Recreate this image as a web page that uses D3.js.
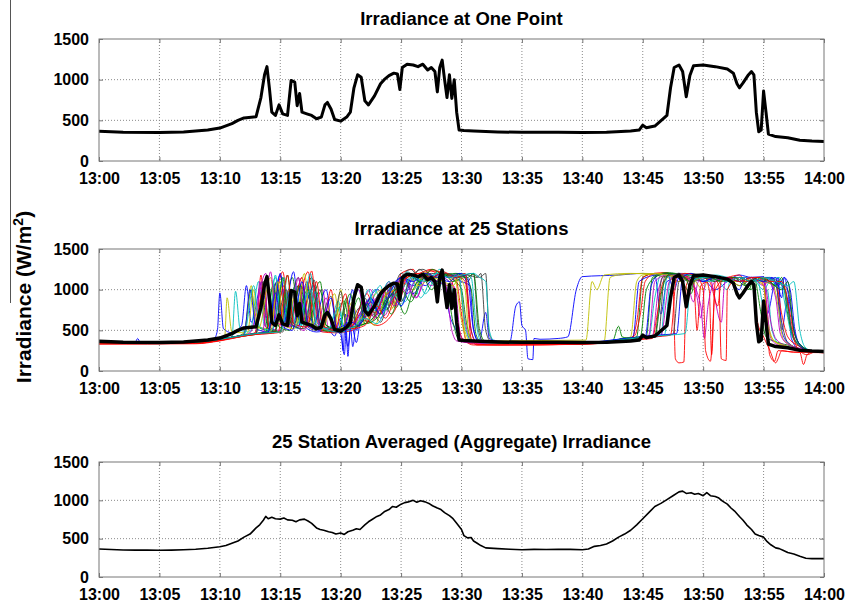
<!DOCTYPE html>
<html>
<head>
<meta charset="utf-8">
<script src="https://cdn.jsdelivr.net/npm/d3@7"></script>
<style>
  body { margin: 0; background: #fff; }
  svg { display: block; font-family: Arial, "Liberation Sans", Helvetica, sans-serif; }
</style>
</head>
<body>
<div id="chart"></div>
<script>
// minutes after 13:00 -> W/m2, flat [t, v, t, v, ...] lists
const onePoint = [0,365, 2,355, 5,350, 7,358, 9,380, 10,405, 11,460, 11.5,500, 12,530, 13,545, 13.4,780, 13.7,1060, 13.9,1160, 14.1,900, 14.3,600, 14.6,560, 14.9,690, 15.2,580, 15.6,560, 15.9,990, 16.2,970, 16.4,680, 16.6,830, 16.8,600, 17.2,580, 17.6,560, 18,520, 18.4,540, 18.7,690, 18.9,720, 19.2,640, 19.5,510, 20,490, 20.5,540, 20.8,600, 21.1,900, 21.4,1060, 21.7,1030, 22,740, 22.3,690, 22.8,800, 23.3,950, 23.6,1000, 24,1050, 24.4,1080, 24.7,1070, 24.9,880, 25.1,1150, 25.5,1190, 26,1180, 26.4,1160, 26.8,1190, 27.2,1120, 27.5,1150, 27.8,1100, 28,850, 28.2,1150, 28.4,1240, 28.6,1000, 28.8,780, 29,1060, 29.2,770, 29.4,1000, 29.6,600, 29.8,380, 30.2,375, 31,370, 33,358, 35,352, 38,352, 40,350, 42,352, 44,370, 44.7,380, 45,440, 45.3,410, 46,430, 46.7,520, 47,560, 47.3,900, 47.6,1150, 48,1180, 48.3,1100, 48.6,790, 48.9,1050, 49.2,1170, 50,1180, 51,1160, 52,1130, 52.5,1080, 52.8,950, 53,900, 53.3,960, 53.7,1050, 54,1100, 54.2,1060, 54.4,600, 54.6,360, 54.8,380, 55,860, 55.2,600, 55.4,330, 56,300, 57,285, 58,255, 59,245, 60,240];

const aggregate = [0,365, 0.5,362, 1,358, 2,352, 3,350, 4,350, 5,348, 6,350, 7,355, 8,362, 9,375, 10,395, 10.5,410, 11,440, 11.5,470, 12,520, 12.5,560, 13,640, 13.3,680, 13.6,740, 13.8,790, 14,760, 14.3,780, 14.6,760, 15,755, 15.3,770, 15.6,745, 16,740, 16.3,720, 16.6,745, 17,755, 17.3,730, 17.6,700, 18,640, 18.3,620, 18.6,610, 19,590, 19.3,580, 19.6,560, 20,575, 20.3,555, 20.6,590, 21,610, 21.3,630, 21.6,620, 22,680, 22.3,720, 22.6,750, 23,790, 23.3,810, 23.6,850, 24,880, 24.3,920, 24.6,910, 25,950, 25.3,970, 25.6,980, 26,1000, 26.3,975, 26.6,995, 27,980, 27.3,960, 27.6,930, 28,900, 28.3,880, 28.6,840, 29,800, 29.3,760, 29.6,700, 30,620, 30.2,540, 30.5,510, 30.8,515, 31,470, 31.3,440, 31.6,410, 32,380, 33,370, 34,362, 35,355, 36,360, 37,358, 38,362, 39,360, 40,355, 40.5,365, 41,400, 41.5,410, 42,430, 42.5,470, 43,520, 43.5,560, 44,610, 44.5,680, 45,760, 45.5,840, 46,920, 46.5,960, 47,1010, 47.5,1060, 48,1110, 48.3,1120, 48.6,1090, 49,1100, 49.3,1080, 49.6,1090, 50,1060, 50.3,1100, 50.6,1060, 51,1050, 51.3,1030, 51.6,990, 52,950, 52.3,900, 52.6,860, 53,790, 53.3,740, 53.6,680, 54,620, 54.3,560, 54.6,540, 55,520, 55.3,460, 55.6,420, 56,380, 56.3,370, 56.6,350, 57,320, 57.5,300, 58,270, 58.5,245, 59,240, 60,240];

const stationColors = ['#0000ff', '#008000', '#ff0000', '#00bfbf', '#bf00bf', '#bfbf00', '#404040'];

const stations = [
  [0,355, 3,355, 3.2,400, 3.4,355, 8,360, 9.5,390, 9.8,500, 10,960, 10.3,520, 11,470, 11.8,560, 12.2,1050, 12.6,600, 13.5,1100, 14,560, 15,1180, 15.6,620, 16.5,1050, 17,550, 18,480, 19,500, 19.5,430, 20,650, 20.2,250, 20.4,700, 20.6,180, 20.8,560, 21,300, 21.3,620, 22,780, 23,1000, 24,900, 25,1150, 26,1050, 27,1180, 28,1100, 28.5,1150, 29,700, 29.5,520, 30,380, 31,370, 31.5,380, 32,720, 32.3,400, 33,370, 34,360, 34.5,800, 34.8,850, 35,560, 35.3,500, 35.5,150, 35.9,140, 36,400, 36.5,390, 38,400, 38.8,420, 39.5,1000, 40,1160, 43,1180, 45,1200, 46,1180, 46.5,700, 47,1100, 48,1150, 49,1100, 50,1120, 51,1000, 52,1100, 53,1180, 54,1150, 55,1160, 55.3,700, 56,1100, 56.5,500, 57,900, 57.3,400, 58,260, 60,230],
  [0,350, 8,360, 10,395, 11.5,430, 12,470, 12.6,1000, 13,560, 14,500, 14.6,1080, 15.1,560, 16,1150, 16.6,600, 17.5,950, 18,540, 19,500, 20.3,860, 20.8,520, 21.5,560, 22.5,900, 23.2,700, 24,1000, 24.6,780, 25.4,1150, 26,900, 27,1180, 28,1150, 28.8,1000, 29.3,600, 29.8,380, 31,350, 35,340, 40,345, 43,380, 44.5,420, 45,1150, 46,1200, 47,1180, 48,1150, 49,950, 49.4,1150, 51,1160, 52,1100, 53,1150, 53.8,1000, 54.2,1150, 54.8,700, 55.2,420, 56,360, 57.5,300, 58.5,250, 60,235],
  [0,330, 8,335, 10,370, 12,430, 13,460, 13.4,1180, 13.8,540, 15,470, 15.5,900, 16,520, 17.3,1220, 17.9,600, 18.5,480, 19.5,470, 21,500, 22,620, 23,560, 24.5,750, 25,1200, 26,1250, 26.5,1100, 27.3,1240, 28,1200, 29.5,1150, 30,700, 30.4,360, 31,320, 35,320, 40,330, 42,350, 44,380, 44.5,600, 45,1150, 46,1200, 47,1210, 47.5,1100, 47.7,150, 48,100, 48.4,110, 48.6,1050, 49,1150, 50,1180, 50.5,1000, 50.7,200, 51,1100, 52,1150, 53,1180, 53.5,1100, 54,1150, 54.5,600, 55,420, 55.5,260, 56,100, 56.2,150, 56.5,250, 57.5,230, 58,230, 58.3,80, 58.6,200, 59,230, 60,225],
  [0,345, 8,355, 10,390, 11,420, 11.3,980, 11.7,500, 12.5,480, 13.2,1100, 13.7,560, 14.6,1150, 15.2,600, 16.2,1000, 16.7,560, 18,960, 18.5,520, 19.5,480, 20.5,560, 21.5,1000, 22,700, 23.3,1050, 23.8,760, 24.5,1000, 25,800, 25.8,1180, 26.6,900, 27.8,1200, 28.5,1150, 29.2,1050, 29.6,500, 30,370, 32,350, 40,350, 43,380, 45.5,420, 46,900, 46.5,1180, 48,1200, 49,1150, 50,1180, 51,1150, 52,1000, 52.3,1150, 53.5,1100, 54.5,1120, 55,800, 55.3,1000, 55.7,500, 56.3,330, 57.5,280, 60,235],
  [0,350, 8,360, 10,395, 11.5,430, 12.5,470, 13.8,1200, 14.3,560, 15.3,1000, 15.8,540, 16.8,1150, 17.3,600, 18.5,1000, 19,520, 20,480, 21,600, 22.5,1000, 23,750, 24,1100, 24.6,800, 25.5,1100, 26.3,900, 27,1200, 28,1100, 29,1050, 29.7,1180, 30.3,600, 30.8,360, 32,340, 40,345, 44,400, 45.8,430, 46.3,1000, 47,1200, 48,1100, 48.5,1180, 49.2,850, 49.6,1100, 50.5,1150, 51.5,600, 51.8,1100, 53,1150, 54,1100, 55,1150, 55.6,600, 56,400, 57,300, 58.5,245, 60,235],
  [0,355, 8,360, 10,390, 10.4,420, 10.6,900, 11,480, 12,470, 12.6,1050, 13,560, 14,520, 15,1100, 15.5,580, 16.5,1050, 17,560, 18.2,860, 18.7,520, 19.5,500, 20,1000, 20.5,560, 21.5,600, 22.5,880, 23.5,1000, 24.2,760, 25,1100, 26,1000, 27,1220, 28,1150, 29,1180, 29.8,1100, 30.3,480, 30.8,360, 32,350, 33,370, 40.3,380, 40.8,1100, 41.2,1000, 41.8,1180, 44,1200, 46,1180, 47,1150, 48,1100, 49,1150, 50,1000, 50.5,1150, 52,1150, 53,1100, 54,1120, 55,1050, 55.5,500, 56,350, 57,300, 58.5,250, 60,235],
  [0,350, 8,360, 10,390, 12,440, 13,470, 13.6,1100, 14.1,540, 15.2,480, 16,1000, 16.5,560, 17.6,1150, 18.2,580, 19,500, 20,480, 21,560, 22,900, 22.6,680, 23.6,1000, 24,800, 25,1150, 25.8,1250, 26.5,1150, 27.5,1200, 28.3,1180, 29,1150, 30,1200, 30.5,1100, 31,1200, 31.4,500, 31.8,370, 33,350, 40,350, 44,390, 46,440, 46.6,1150, 48,1200, 50,1180, 51,1100, 52,1150, 53,1050, 54,1120, 55,1100, 56,1050, 56.5,600, 57,350, 58.5,250, 60,235],
  [0,350, 8,360, 10,390, 12,440, 12.5,1000, 13,520, 14,480, 14.7,1100, 15.2,560, 16.1,1220, 16.6,620, 17.8,1050, 18.3,560, 19.5,500, 20.3,540, 21,1000, 21.3,500, 21.6,650, 22.5,880, 23.3,700, 24,1000, 25.2,1150, 26,950, 27,1150, 28,1100, 29,1180, 30,1100, 30.7,1050, 31,500, 31.5,360, 33,345, 40,345, 43,390, 44.2,420, 44.7,1100, 46,1180, 47,1200, 47.6,1000, 48,1150, 49,1100, 50,1150, 51,1160, 52,1100, 53,1150, 54,1150, 55.5,1150, 55.8,1000, 56.2,1150, 56.5,500, 57,350, 58.5,250, 60,235],
  [0,340, 8,350, 10,385, 12,430, 13,450, 13.8,480, 14.4,1050, 14.9,540, 15.8,500, 16.5,1050, 17,580, 18.3,1100, 18.8,560, 19.8,500, 20.5,900, 21,540, 22,580, 23,700, 23.8,880, 24.5,950, 25.3,700, 26,1000, 27,1200, 27.8,1050, 28.5,1180, 29.5,1100, 30,1000, 30.4,600, 30.9,370, 32,345, 40,345, 42.5,370, 43,550, 43.3,420, 44,400, 45.3,430, 45.8,1150, 47,1210, 48.5,1180, 50,1150, 51,1100, 52,1150, 53,1150, 54,1000, 54.3,1150, 55,1120, 56,1050, 56.5,1100, 57,800, 57.4,420, 58,300, 59,245, 60,235],
  [0,340, 8,345, 10,380, 12,440, 12.9,470, 13.6,1050, 14.1,530, 15.2,1220, 15.8,600, 16.8,520, 17.6,1230, 18.1,580, 19,480, 20,500, 21,580, 22.2,950, 22.8,720, 24,1050, 24.8,850, 25.6,1200, 26.5,1150, 27.5,1230, 28.5,1200, 29.2,1100, 29.7,600, 30.2,360, 31.5,330, 40,335, 43,370, 44.3,430, 44.8,700, 45.2,1100, 46,1200, 47,1200, 48,1180, 49,1150, 50,1100, 50.8,1150, 51.3,1050, 51.5,150, 51.9,130, 52,1000, 53,1150, 54,1100, 55,1120, 56,1100, 56.5,700, 57,420, 58,300, 59,240, 60,230],
  [0,350, 8,360, 10,390, 12,440, 13,460, 14,470, 14.6,1180, 15.1,580, 16.3,1050, 16.8,540, 17.8,980, 18.3,540, 19,500, 19.8,860, 20.3,520, 21,540, 22,650, 22.8,1000, 23.5,800, 24.5,1050, 25.3,850, 26.3,1150, 27,950, 28.2,1250, 29,1180, 30,1200, 30.8,1150, 31.2,600, 31.6,370, 33,345, 40,345, 43,370, 45,400, 46.8,440, 47.3,1150, 48.5,1200, 50,1150, 51,1180, 52,1150, 53,1100, 54,1150, 55,1000, 55.5,1100, 56.3,1150, 56.8,800, 57.3,460, 58,320, 59,245, 60,235],
  [0,345, 8,355, 10,390, 12,440, 13,460, 13.3,1100, 13.8,540, 15,500, 15.7,1000, 16.2,560, 17,500, 17.8,950, 18.3,540, 19.5,490, 20.3,560, 21.5,1000, 22,650, 23,900, 23.6,680, 24.8,1100, 25.5,950, 26.5,1180, 27.5,1050, 28.3,1150, 29,1100, 29.5,1000, 29.9,450, 30.4,360, 32,340, 40,345, 43,380, 45,420, 45.5,440, 46,1100, 47,1180, 48,1150, 49,1100, 49.5,900, 49.8,650, 50.2,1100, 51,1150, 52.5,1100, 53.5,1150, 54.5,1150, 55,1100, 55.6,400, 56.2,320, 57.5,280, 58.5,245, 60,235],
  [0,350, 8,360, 10,390, 12,440, 12.3,470, 12.8,1000, 13.2,520, 14.2,1150, 14.7,560, 15.8,1000, 16.3,540, 17.3,1080, 17.8,560, 19,500, 20,520, 21,850, 21.5,560, 22.5,700, 23.5,1000, 24.3,780, 25,1050, 26,1180, 27,1100, 28,1150, 28.8,1050, 29.4,1150, 30,620, 30.5,370, 32,350, 40,350, 42,370, 43,380, 44,420, 44.5,1100, 45,1180, 46.5,1200, 48,1150, 49,1150, 50,1100, 51,1150, 52,1150, 53,1050, 54,1150, 55,1100, 55.8,1050, 56.3,700, 56.6,400, 57.5,300, 58.5,250, 60,235],
  [0,350, 8,360, 10,390, 12,440, 13,460, 14,480, 14.8,1000, 15.3,560, 16.5,1150, 17,580, 18,500, 19.2,920, 19.7,520, 20.5,520, 21.6,780, 22.2,600, 23.2,950, 23.8,750, 25,1200, 25.8,1100, 26.5,1250, 27.4,1150, 28.5,1200, 29.5,1150, 30.5,1180, 31.3,1150, 31.6,1200, 32,500, 32.4,370, 34,345, 40,345, 43,380, 46,430, 47.5,450, 48,1100, 49,1200, 50,1150, 51,1120, 52,1150, 53,1100, 54,1150, 55,1100, 55.5,1150, 56.2,1100, 57,1000, 57.5,500, 58,330, 59,250, 60,235],
  [0,350, 8,360, 10,390, 12,440, 13,460, 14.3,480, 15,1200, 15.5,600, 16.5,540, 17.2,1100, 17.7,560, 18.8,1000, 19.3,520, 20,450, 20.3,200, 20.5,600, 21,520, 21.3,350, 21.6,600, 22.5,900, 23.3,650, 24.2,950, 25,800, 26,1150, 27,1050, 28,1180, 29,1150, 29.6,1200, 30.3,1150, 30.8,500, 31.2,370, 33,350, 40,350, 43,380, 45.2,410, 45.7,1050, 46.3,1180, 47.5,1200, 48.3,1100, 49,1150, 50,1100, 51,1150, 52,1150, 53,1000, 53.3,1100, 54,1150, 55.7,1150, 56.2,1050, 56.7,1150, 57.2,800, 57.6,450, 58.2,300, 59,245, 60,235],
  [0,345, 8,355, 10,390, 12,440, 13,455, 13.5,900, 14,520, 15,480, 15.6,1180, 16.1,580, 17.3,1000, 17.8,540, 19,490, 19.8,520, 20.8,950, 21.3,560, 22.5,620, 23.5,850, 24.2,700, 25,1000, 25.8,850, 26.8,1150, 27.5,1000, 28.5,1200, 29.3,1100, 30.3,1150, 30.8,1000, 31.2,450, 31.6,360, 33,345, 40,345, 42.8,370, 43.2,400, 44.8,420, 45.3,1000, 46,1150, 47,1200, 48,1180, 49,1100, 50,1150, 51,1150, 52,1100, 53,1150, 54,1100, 55,1150, 56,1050, 56.5,1150, 57,700, 57.5,400, 58,320, 59,245, 60,235],
  [0,335, 8,340, 10,375, 12,430, 13,450, 14,460, 14.5,470, 15.3,1050, 15.8,580, 16.8,1150, 17.3,580, 18.5,500, 19.2,1000, 19.7,520, 20.7,520, 21.7,700, 22.5,600, 23.5,900, 24.5,1000, 25.5,1150, 26.5,1200, 27.5,1250, 28.5,1200, 29.5,1180, 30.3,1100, 30.8,400, 31.3,320, 33,320, 40,330, 42,345, 44,380, 45.8,400, 46.2,700, 46.7,1100, 47.5,1180, 48.5,1150, 49.2,1100, 49.5,500, 49.8,1050, 50.5,1100, 51.2,800, 51.5,1100, 52.5,1150, 53.5,1100, 54.5,1150, 55,1050, 55.3,600, 55.5,200, 55.9,120, 56.2,250, 57,240, 58,230, 60,225],
  [0,350, 8,360, 10,390, 12,440, 12.8,1050, 13.3,540, 14.3,500, 15.3,1150, 15.8,580, 16.6,520, 17.5,1200, 18,600, 19,500, 20,480, 21.3,560, 22.3,1000, 22.8,740, 24,1100, 24.7,900, 25.5,1220, 26.5,1100, 27.3,1150, 28,1000, 28.8,1200, 29.8,1150, 30.3,550, 30.8,370, 32,345, 40,345, 43,385, 45,420, 46.5,440, 47,1150, 48,1200, 49.5,1150, 50.5,1100, 51.5,1150, 52.5,1100, 53.5,1150, 54.5,1100, 55.5,1150, 56,1050, 56.7,1000, 57.1,700, 57.4,450, 58,320, 59,245, 60,235],
  [0,350, 8,360, 10,390, 12,440, 13,460, 13.5,470, 14.2,1220, 14.7,600, 15.8,540, 16.5,1150, 17,580, 18,520, 18.8,900, 19.3,520, 20.3,500, 21.2,580, 22.2,850, 22.8,650, 23.8,1000, 24.4,800, 25.3,1100, 26.2,900, 27.2,1150, 28,1050, 28.6,1100, 29.2,500, 29.6,370, 31,345, 40,345, 43,380, 45.5,420, 46.5,430, 47.2,1100, 48,1200, 49,1100, 49.8,800, 50.1,400, 50.4,800, 51,1100, 52,1150, 53,1100, 54,1150, 55,1050, 55.4,1100, 56,900, 56.4,450, 57,330, 58,280, 59,245, 60,235],
  [0,350, 8,360, 10,390, 12,440, 13,460, 14.2,480, 14.8,1100, 15.3,560, 16.2,520, 17,1200, 17.5,600, 18.5,520, 19.5,950, 20,540, 21,520, 22,700, 22.8,560, 23.8,950, 24.5,1000, 25.5,1180, 26.5,1050, 27.5,1150, 28.5,1100, 29.3,1050, 29.8,1150, 30.3,1000, 30.6,450, 31,360, 33,345, 40,345, 41.8,360, 42.3,1150, 43,1180, 45,1200, 47,1180, 48,1150, 49,1100, 50,1150, 51,1150, 52,1100, 53,1100, 54,1150, 55,1050, 55.3,600, 55.8,380, 57,300, 58.5,250, 60,235],
  [0,350, 8,360, 10,390, 12,440, 13,460, 14.5,490, 15.5,1000, 16,560, 17,520, 17.8,1120, 18.3,580, 19.3,520, 20,980, 20.5,540, 21.5,560, 22.5,750, 23.3,600, 24.3,1050, 25,850, 25.8,1150, 26.8,1250, 27.8,1150, 28.8,1200, 29.8,1150, 30.8,1200, 31.5,1150, 32,1200, 32.3,450, 32.8,360, 34,345, 40,345, 43,380, 45.5,420, 46.3,440, 46.8,1150, 48,1200, 49,1100, 50,1180, 51,1150, 52,1100, 53,1150, 54,1100, 55,1150, 56,1100, 56.8,1000, 57.2,600, 57.6,380, 58.5,260, 60,235],
  [0,350, 8,360, 10,390, 12,440, 13,460, 14,480, 14.6,960, 15.1,560, 16,500, 16.8,1100, 17.3,560, 18.3,500, 19.2,900, 19.7,520, 20.3,560, 20.6,300, 20.9,600, 21.5,560, 22.5,850, 23.3,700, 24.2,1000, 25,1150, 26,1100, 27,1200, 28,1150, 29,1100, 29.8,1200, 30.5,1150, 30.9,600, 31.3,380, 33,350, 40,350, 43,390, 46,440, 47.8,460, 48.3,1150, 49,1200, 50,1100, 51,1150, 52,1150, 53,1100, 54,1150, 55,1100, 56,1150, 56.5,900, 56.7,1150, 57.2,1000, 57.6,500, 58.1,300, 59,245, 60,235],
  [0,345, 8,355, 10,390, 12,440, 13,460, 14.6,480, 15.2,1150, 15.7,580, 16.7,1050, 17.2,560, 18.3,1000, 18.8,560, 19.8,520, 20.5,520, 21.5,900, 22,580, 23,650, 24,900, 24.8,1050, 25.7,1200, 26.5,1100, 27.6,1250, 28.5,1180, 29.5,1200, 30.5,1150, 31,1200, 31.5,500, 32,360, 34,345, 40,345, 42.8,370, 44,400, 46,430, 46.6,1000, 47.3,1200, 48.5,1150, 49,1000, 49.3,1150, 50.5,1150, 51.5,1100, 52.5,1150, 53.5,1050, 54.5,1150, 55.5,1100, 56.5,1000, 57,1100, 57.5,500, 58,330, 59,245, 60,235],
  [0,335, 8,340, 10,375, 12,430, 13,450, 14.8,470, 15.6,1180, 16.1,580, 17.2,540, 18,1100, 18.5,560, 19.5,500, 20.4,950, 20.9,520, 22,560, 23,800, 23.7,650, 24.7,1000, 25.5,1150, 26.5,1200, 27.5,1150, 28.5,1220, 29.5,1150, 30.3,1200, 30.8,500, 31.3,330, 33,320, 40,330, 43,360, 46,420, 47.3,440, 47.8,1150, 48.5,1200, 49.5,1150, 50,1000, 50.2,250, 50.6,120, 51,1000, 52,1150, 53,1100, 54,1150, 55,1150, 55.5,1100, 56.5,1100, 57.2,700, 57.6,350, 58,250, 58.6,200, 59.2,230, 60,225],
  [0,350, 8,360, 10,390, 12,440, 13,460, 15,480, 15.8,900, 16.3,560, 17.5,1000, 18,560, 19,520, 19.8,780, 20.3,520, 21,540, 22,650, 23,580, 24,850, 25,1000, 26,1150, 27,1100, 28,1200, 29,1150, 30,1180, 31,1200, 31.5,1150, 32,1100, 32.3,500, 32.7,370, 34,345, 40,345, 43,380, 46,430, 48.5,460, 49,1100, 50,1150, 51,1150, 52,1100, 53,1150, 54,1100, 55,1150, 56,1100, 57,1050, 57.5,1100, 58,500, 58.4,300, 59,245, 60,235]
];

const minuteTicks = d3.range(0, 61, 5);
const valueTicks = [0, 500, 1000, 1500];
const panelTitles = ['Irradiance at One Point', 'Irradiance at 25 Stations', '25 Station Averaged (Aggregate) Irradiance'];

const width = 846, height = 602;
const left = 99, right = 824;
const panels = [
    { top: 39, bottom: 161 },
    { top: 249, bottom: 371 },
    { top: 462, bottom: 577 }
];

function toPoints(flat) {
    const pts = [];
    for (let i = 0; i < flat.length; i += 2) pts.push([flat[i], flat[i + 1]]);
    return pts;
}

function timeLabel(m) {
    return m === 60 ? '14:00' : '13:' + String(m).padStart(2, '0');
}

const svg = d3.select('#chart').append('svg')
    .attr('width', width)
    .attr('height', height);

const x = d3.scaleLinear().domain([0, 60]).range([left, right]);

// odd leftover rule at far left of the figure
svg.append('line')
    .attr('x1', 10.5).attr('x2', 10.5)
    .attr('y1', 0).attr('y2', 303)
    .attr('stroke', '#555')
    .attr('stroke-width', 1);

const ylab = svg.append('text')
    .attr('transform', 'translate(31,297) rotate(-90)')
    .attr('text-anchor', 'middle')
    .style('font-size', '21px')
    .style('font-weight', 'bold');
ylab.append('tspan').text('Irradiance (W/m');
ylab.append('tspan').attr('dy', -8).style('font-size', '14px').text('2');
ylab.append('tspan').attr('dy', 8).text(')');

panels.forEach((p, idx) => {
    const y = d3.scaleLinear().domain([0, 1500]).range([p.bottom, p.top]);
    const g = svg.append('g');

    // dotted grid
    g.selectAll('line.vgrid')
        .data(minuteTicks.slice(1, -1))
        .enter().append('line')
        .attr('x1', d => x(d)).attr('x2', d => x(d))
        .attr('y1', p.top).attr('y2', p.bottom)
        .attr('stroke', '#8a8a8a')
        .attr('stroke-dasharray', '1,2');
    g.selectAll('line.hgrid')
        .data(valueTicks.slice(1, -1))
        .enter().append('line')
        .attr('x1', left).attr('x2', right)
        .attr('y1', d => y(d)).attr('y2', d => y(d))
        .attr('stroke', '#8a8a8a')
        .attr('stroke-dasharray', '1,2');

    const clipId = 'clip' + idx;
    svg.append('clipPath').attr('id', clipId)
        .append('rect')
        .attr('x', left).attr('y', p.top)
        .attr('width', right - left).attr('height', p.bottom - p.top);

    const line = d3.line().x(d => x(d[0])).y(d => y(d[1]));
    const smooth = d3.line().curve(d3.curveMonotoneX).x(d => x(d[0])).y(d => y(d[1]));
    const plot = g.append('g').attr('clip-path', `url(#${clipId})`);

    if (idx === 1) {
        plot.selectAll('path.station')
            .data(stations)
            .enter().append('path')
            .attr('class', 'station')
            .attr('d', d => smooth(toPoints(d)))
            .attr('fill', 'none')
            .attr('stroke', (d, i) => stationColors[i % stationColors.length])
            .attr('stroke-width', 0.9);
    }
    if (idx < 2) {
        plot.append('path')
            .attr('d', line(toPoints(onePoint)))
            .attr('fill', 'none')
            .attr('stroke', '#000')
            .attr('stroke-width', idx === 0 ? 3 : 3.5)
            .attr('stroke-linejoin', 'round');
    } else {
        plot.append('path')
            .attr('d', line(toPoints(aggregate)))
            .attr('fill', 'none')
            .attr('stroke', '#000')
            .attr('stroke-width', 1.6)
            .attr('stroke-linejoin', 'round');
    }

    // axes with inward ticks
    const xb = g.append('g').attr('transform', `translate(0,${p.bottom})`)
        .call(d3.axisBottom(x).tickValues(minuteTicks).tickFormat(timeLabel).tickSizeInner(-4).tickSizeOuter(0).tickPadding(12));
    const xt = g.append('g').attr('transform', `translate(0,${p.top})`)
        .call(d3.axisTop(x).tickValues(minuteTicks).tickFormat('').tickSizeInner(-4).tickSizeOuter(0));
    const yl = g.append('g').attr('transform', `translate(${left},0)`)
        .call(d3.axisLeft(y).tickValues(valueTicks).tickFormat(d3.format('d')).tickSizeInner(-4).tickSizeOuter(0).tickPadding(10));
    const yr = g.append('g').attr('transform', `translate(${right},0)`)
        .call(d3.axisRight(y).tickValues(valueTicks).tickFormat('').tickSizeInner(-4).tickSizeOuter(0));

    [xb, xt, yl, yr].forEach(a => {
        a.select('.domain').remove();
        a.selectAll('.tick line').attr('stroke', '#777');
        a.selectAll('text')
            .attr('fill', '#000')
            .style('font-size', '16px')
            .style('font-weight', 'bold')
            .style('font-family', 'Arial, "Liberation Sans", sans-serif');
    });

    g.append('rect')
        .attr('x', left).attr('y', p.top)
        .attr('width', right - left).attr('height', p.bottom - p.top)
        .attr('fill', 'none')
        .attr('stroke', '#777')
        .attr('stroke-width', 1);

    svg.append('text')
        .attr('x', (left + right) / 2)
        .attr('y', p.top - 14)
        .attr('text-anchor', 'middle')
        .style('font-size', '18.5px')
        .style('font-weight', 'bold')
        .text(panelTitles[idx]);
});
</script>
</body>
</html>
